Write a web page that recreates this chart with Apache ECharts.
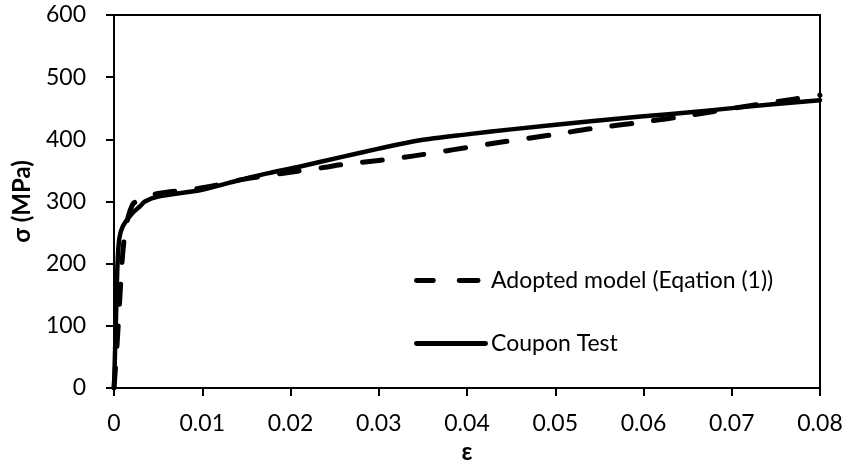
<!DOCTYPE html>
<html>
<head>
<meta charset="utf-8">
<script src="https://cdn.jsdelivr.net/npm/echarts@6/dist/echarts.min.js"></script>
<style>
html,body{margin:0;padding:0;background:#fff;}
#chart{width:848px;height:470px;}
</style>
</head>
<body>
<div id="chart"></div>
<script>
// Coupon test (solid)
var couponStrain = [0, 0.0002, 0.0004, 0.0006, 0.001, 0.002, 0.003, 0.0035, 0.005, 0.01, 0.013, 0.017, 0.021, 0.0256, 0.03, 0.0345, 0.04, 0.045, 0.054, 0.06, 0.065, 0.0706, 0.08];
var couponStress = [0, 100, 200, 240, 260, 280, 293, 300, 308, 319, 330, 344, 356, 371, 385, 398, 408, 416, 429, 437, 443, 451, 463];
// Adopted model (dashed)
var modelStrain = [0, 0.0003, 0.0006, 0.0009, 0.0012, 0.0016, 0.0021, 0.0025, 0.0035, 0.005, 0.01, 0.0148, 0.0194, 0.0239, 0.0256, 0.03, 0.0338, 0.0432, 0.05, 0.054, 0.06, 0.065, 0.0706, 0.0772, 0.08];
var modelStress = [0, 60, 130, 200, 245, 275, 295, 300, 306, 313, 322, 336, 346, 355, 359, 366, 373, 394, 408, 417, 428, 438, 451, 465, 471];
var xTicks = ['0', '0.01', '0.02', '0.03', '0.04', '0.05', '0.06', '0.07', '0.08'];
var yTicks = ['0', '100', '200', '300', '400', '500', '600'];
var seriesNames = ['Adopted model (Eqation (1))', 'Coupon Test'];

function zip(a, b) { return a.map(function (v, i) { return [v, b[i]]; }); }

var FONT = 'Lato';
var DASH_ICON = 'path://M2,0H19A2,2 0 0 1 19,5H2A2,2 0 0 1 2,0Z M45,0H64A2,2 0 0 1 64,5H45A2,2 0 0 1 45,0Z M74,2.5L74,2.5';
var SOLID_ICON = 'path://M2,0H72A2,2 0 0 1 72,5H2A2,2 0 0 1 2,0Z';
var chart = echarts.init(document.getElementById('chart'), null, {renderer: 'canvas'});
chart.setOption({
  animation: false,
  backgroundColor: '#fff',
  grid: {left: 114, right: 28, top: 15, bottom: 82, show: true, borderColor: '#000', borderWidth: 2,
    containLabel: false, outerBoundsMode: 'none'},
  legend: {
    left: 409, top: 264, orient: 'vertical', itemGap: 40,
    itemWidth: 74, itemHeight: 5,
    textStyle: {fontFamily: FONT, fontSize: 23, color: '#000', padding: [0, 0, 0, -2]},
    data: [{name: seriesNames[0], icon: DASH_ICON}, {name: seriesNames[1], icon: SOLID_ICON}]
  },
  xAxis: {
    type: 'value', min: 0, max: 0.08, interval: 0.01,
    name: 'ε', nameLocation: 'middle', nameGap: 46,
    nameTextStyle: {fontFamily: FONT, fontSize: 24, fontWeight: 'bold', color: '#000'},
    axisLine: {show: true, lineStyle: {color: '#000', width: 2}},
    axisTick: {show: true, inside: false, length: 8, lineStyle: {color: '#000', width: 2}},
    axisLabel: {fontFamily: FONT, fontSize: 23, color: '#000', margin: 24,
      formatter: function (v) { return xTicks[Math.round(v / 0.01)]; }},
    splitLine: {show: false}
  },
  yAxis: {
    type: 'value', min: 0, max: 600, interval: 100,
    name: 'σ (MPa)', nameLocation: 'middle', nameGap: 80, nameRotate: 90,
    nameTextStyle: {fontFamily: FONT, fontSize: 24, fontWeight: 'bold', color: '#000'},
    axisLine: {show: true, lineStyle: {color: '#000', width: 2}},
    axisTick: {show: true, inside: false, length: 8, lineStyle: {color: '#000', width: 2}},
    axisLabel: {fontFamily: FONT, fontSize: 23, color: '#000', margin: 28,
      formatter: function (v) { return yTicks[Math.round(v / 100)]; }},
    splitLine: {show: false}
  },
  series: [
    {
      name: seriesNames[0], type: 'line', symbol: 'none', smooth: 0.3,
      data: zip(modelStrain, modelStress),
      lineStyle: {color: '#000', width: 5, type: [20, 22], cap: 'round', join: 'round'},
      itemStyle: {color: '#000'}, z: 2
    },
    {
      name: seriesNames[1], type: 'line', symbol: 'none', smooth: 0.3,
      data: zip(couponStrain, couponStress),
      lineStyle: {color: '#000', width: 4.5, type: 'solid', cap: 'round', join: 'round'},
      itemStyle: {color: '#000'}, z: 3
    }
  ]
});
</script>
</body>
</html>
